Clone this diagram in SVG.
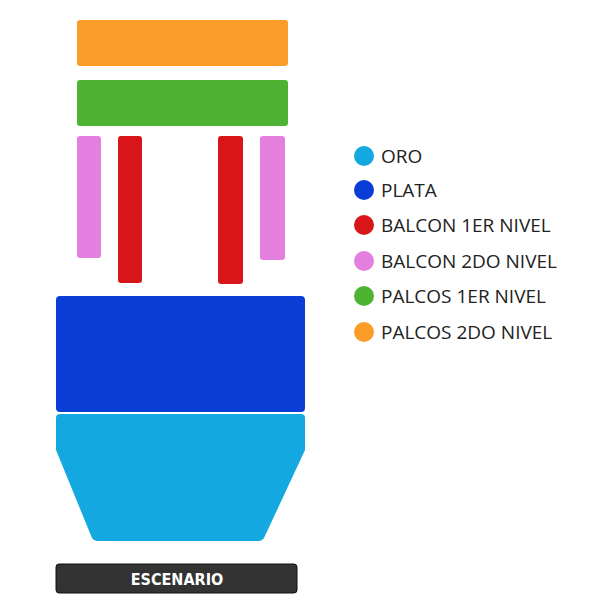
<svg xmlns="http://www.w3.org/2000/svg" width="600" height="608" viewBox="0 0 600 608">
<style>
.lg{font-family:"Open Sans","Liberation Sans",sans-serif;font-size:19px;fill:#222}
</style>
<rect width="600" height="608" fill="#fff"/>
<g id="palcos2"><rect x="77" y="20" width="211" height="46" rx="3" fill="#fb9c28"/></g>
<g id="palcos1"><rect x="77" y="80" width="211" height="46" rx="3" fill="#4eb233"/></g>
<g id="balcon2-l"><rect x="77" y="136" width="24" height="122" rx="3" fill="#e47fe0"/></g>
<g id="balcon1-l"><rect x="118" y="136" width="24" height="147" rx="3" fill="#d8161a"/></g>
<g id="balcon1-r"><rect x="218" y="136" width="25" height="148" rx="3" fill="#d8161a"/></g>
<g id="balcon2-r"><rect x="260" y="136" width="25" height="124" rx="3" fill="#e47fe0"/></g>
<g id="plata"><rect x="56" y="296" width="249" height="116" rx="4" fill="#0a3cd6"/></g>
<g id="oro"><path d="M60 414 H301 Q305 414 305 418 V450 L264 538 Q262 541 258 541 H97 Q94 541 92 538 L56 450 V418 Q56 414 60 414 Z" fill="#14a8e0"/></g>
<g id="escenario"><rect x="56" y="564" width="241" height="29" rx="3" fill="#333" stroke="#111" stroke-width="1"/>
<text x="177" y="585" text-anchor="middle" font-family="'DejaVu Sans Condensed','Liberation Sans Narrow',sans-serif" font-weight="bold" font-size="16" fill="#fff">ESCENARIO</text></g>
<g id="legend">
<circle cx="364" cy="156" r="10" fill="#14a8e0"/><text class="lg" x="381" y="163">ORO</text>
<circle cx="364" cy="190" r="10" fill="#0a3cd6"/><text class="lg" x="381" y="197">PLATA</text>
<circle cx="364" cy="225" r="10" fill="#d8161a"/><text class="lg" x="381" y="232">BALCON 1ER NIVEL</text>
<circle cx="364" cy="261" r="10" fill="#e47fe0"/><text class="lg" x="381" y="268">BALCON 2DO NIVEL</text>
<circle cx="364" cy="296" r="10" fill="#4eb233"/><text class="lg" x="381" y="303">PALCOS 1ER NIVEL</text>
<circle cx="364" cy="332" r="10" fill="#fb9c28"/><text class="lg" x="381" y="339">PALCOS 2DO NIVEL</text>
</g>
</svg>
